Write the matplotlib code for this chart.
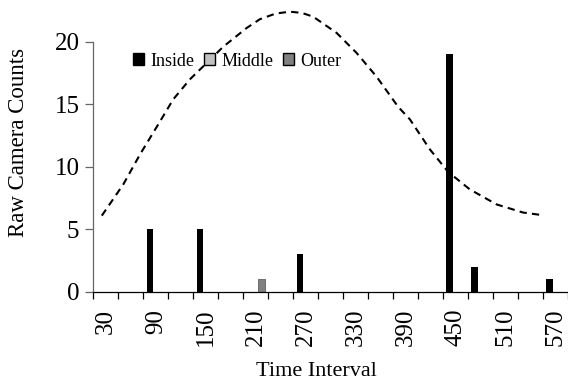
import matplotlib.pyplot as plt
from matplotlib.patches import Patch

plt.rcParams['font.family'] = ['Liberation Serif', 'DejaVu Serif']

intervals = [30, 60, 90, 120, 150, 180, 210, 240, 270, 300, 330,
             360, 390, 420, 450, 480, 510, 540, 570]
inside = [0, 0, 5, 0, 5, 0, 0, 0, 3, 0, 0, 0, 0, 0, 19, 2, 0, 0, 1]
middle = [0] * 19
outer = [0, 0, 0, 0, 0, 0, 1, 0, 0, 0, 0, 0, 0, 0, 0, 0, 0, 0, 0]

# dashed trend line (x in category index units)
trend_x = [-0.16, 0.70, 1.37, 2.04, 2.70, 3.37, 4.04, 4.70, 5.64, 6.17,
           6.80, 7.37, 7.85, 8.30, 9.24, 10.04, 10.84, 11.70, 12.17,
           12.97, 13.70, 14.57, 15.64, 16.70, 17.44]
trend_y = [6.1, 8.6, 11.0, 13.2, 15.4, 17.0, 18.3, 19.6, 21.1, 21.8,
           22.25, 22.4, 22.3, 22.0, 20.7, 19.1, 17.2, 14.8, 13.8,
           11.4, 9.6, 8.2, 7.0, 6.35, 6.15]

fig = plt.figure(figsize=(5.68, 3.83), dpi=100)
ax = fig.add_axes([0.1643, 0.2376, 0.8357, 0.6535])

pos = list(range(len(intervals)))
w = 0.27
off = 0.23
ax.bar([p - off for p in pos], inside, w, color='black', label='Inside')
ax.bar(pos, middle, w, color='#c0c0c0', edgecolor='black', linewidth=0.6, label='Middle')
ax.bar([p + off for p in pos], outer, w, color='#808080', edgecolor='#606060', linewidth=0.6, label='Outer')

ax.plot(trend_x, trend_y, color='black', lw=1.5, dashes=(3.5, 2.5), clip_on=False)

ax.set_xlim(-0.5, 18.5)
ax.set_ylim(0, 20)
ax.set_yticks([0, 5, 10, 15, 20])
ax.set_xticks(pos[::2])
ax.set_xticklabels([str(v) for v in intervals[::2]], rotation=90)
ax.set_xticks([p - 0.5 for p in range(len(intervals) + 1)], minor=True)

ax.tick_params(axis='x', which='major', length=0, pad=12, labelsize=18)
ax.tick_params(axis='x', which='minor', length=5, width=0.9, direction='out')
ax.tick_params(axis='y', length=6, width=0.9, color='#666666', pad=4, labelsize=18)

for s in ['top', 'right']:
    ax.spines[s].set_visible(False)
ax.spines['left'].set_color('#666666')
ax.spines['left'].set_linewidth(0.9)
ax.spines['bottom'].set_linewidth(0.9)

ax.set_ylabel('Raw Camera Counts', fontsize=16.5)
ax.yaxis.set_label_coords(-0.135, 0.596)
ax.set_xlabel('Time Interval', fontsize=16)
ax.xaxis.set_label_coords(0.47, -0.28)

handles = [Patch(facecolor='black', edgecolor='black', label='Inside'),
           Patch(facecolor='#c0c0c0', edgecolor='black', label='Middle'),
           Patch(facecolor='#808080', edgecolor='black', label='Outer')]
fig.legend(handles=handles, loc='center left', bbox_to_anchor=(133 / 568, 1 - 61 / 383),
           ncol=3, frameon=False, fontsize=13, handlelength=0.6, handleheight=0.6,
           handletextpad=0.35, columnspacing=0.55, borderpad=0, borderaxespad=0)

fig.savefig('out.png', dpi=100)
